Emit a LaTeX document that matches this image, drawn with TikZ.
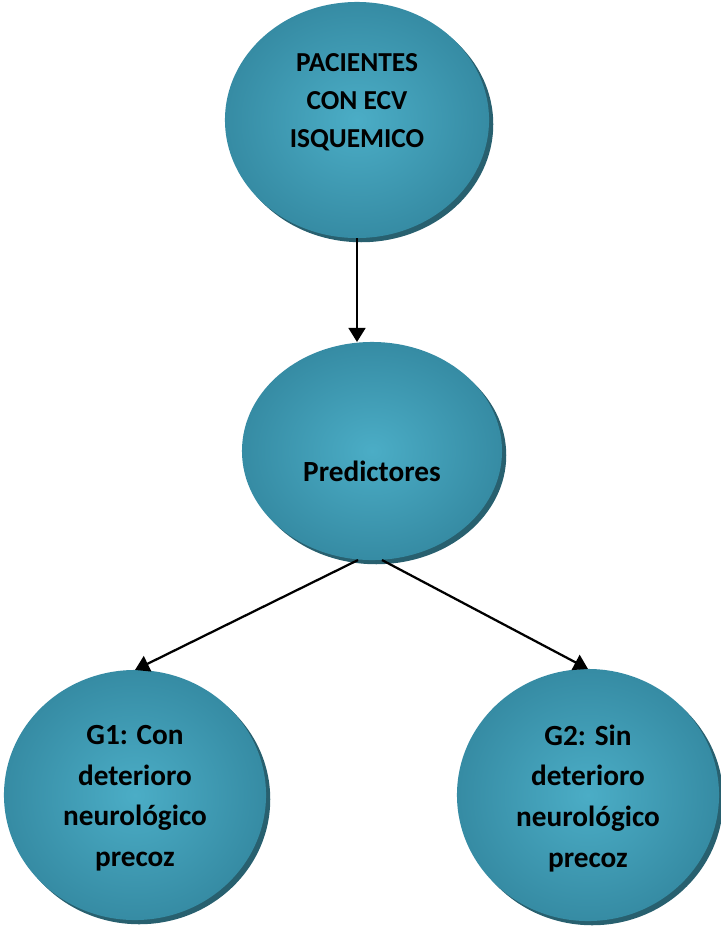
\documentclass[tikz,border=0pt]{standalone}
\usepackage{fontspec}
\setmainfont{Carlito}
\usetikzlibrary{arrows.meta,shapes.geometric,shadows}
\definecolor{tealcore}{HTML}{4BADC6}
\definecolor{tealrim}{HTML}{30829A}
\definecolor{tealshade}{HTML}{28606F}
\pgfdeclareradialshading{tealglow}{\pgfpoint{0bp}{0bp}}{color(0bp)=(tealcore);color(32bp)=(tealrim);color(50bp)=(tealrim)}
\tikzset{blob/.style={ellipse,shading=tealglow,draw=none,inner sep=0pt,outer sep=0pt,general shadow={shadow xshift=3pt,shadow yshift=-3pt,fill=tealshade}},blobtext/.style={font=\bfseries\fontsize{19.5}{27}\selectfont,align=center,inner sep=0pt},flow/.style={draw=black,line width=1.6pt,-{Triangle[length=10pt,width=12pt]}}}
\begin{document}
\begin{tikzpicture}[x=0.025cm,y=-0.025cm]
\useasboundingbox (0,0) rectangle (721,928);
\node[blob,minimum width=6.6cm,minimum height=5.9cm] (pac) at (357,120) {};
\node[blobtext,yshift=.45cm] (pactxt) at (pac) {PACIENTES\\CON ECV\\ISQUEMICO};
\node[blob,minimum width=6.5cm,minimum height=5.45cm] (pred) at (372,451) {};
\node[blobtext,font=\bfseries\fontsize{20.8}{29}\selectfont,yshift=-.5cm] (predtxt) at (pred) {Predictores};
\node[blob,minimum width=6.55cm,minimum height=6.25cm] (g1) at (135,795) {};
\node[blobtext,font=\bfseries\fontsize{20.8}{29}\selectfont,yshift=-.08cm] (g1txt) at (g1) {G1: Con\\deterioro\\neurológico\\precoz};
\node[blob,minimum width=6.55cm,minimum height=6.3cm] (g2) at (588,795) {};
\node[blobtext,font=\bfseries\fontsize{20.8}{29}\selectfont,yshift=-.08cm] (g2txt) at (g2) {G2: Sin\\deterioro\\neurológico\\precoz};
\draw[flow] (pac.south) -- (pac.south |- pred.north);
\draw[flow] ([xshift=-.35cm]pred.south) -- (g1.north);
\draw[flow] ([xshift=.25cm]pred.south) -- (g2.north);
\end{tikzpicture}
\end{document}
